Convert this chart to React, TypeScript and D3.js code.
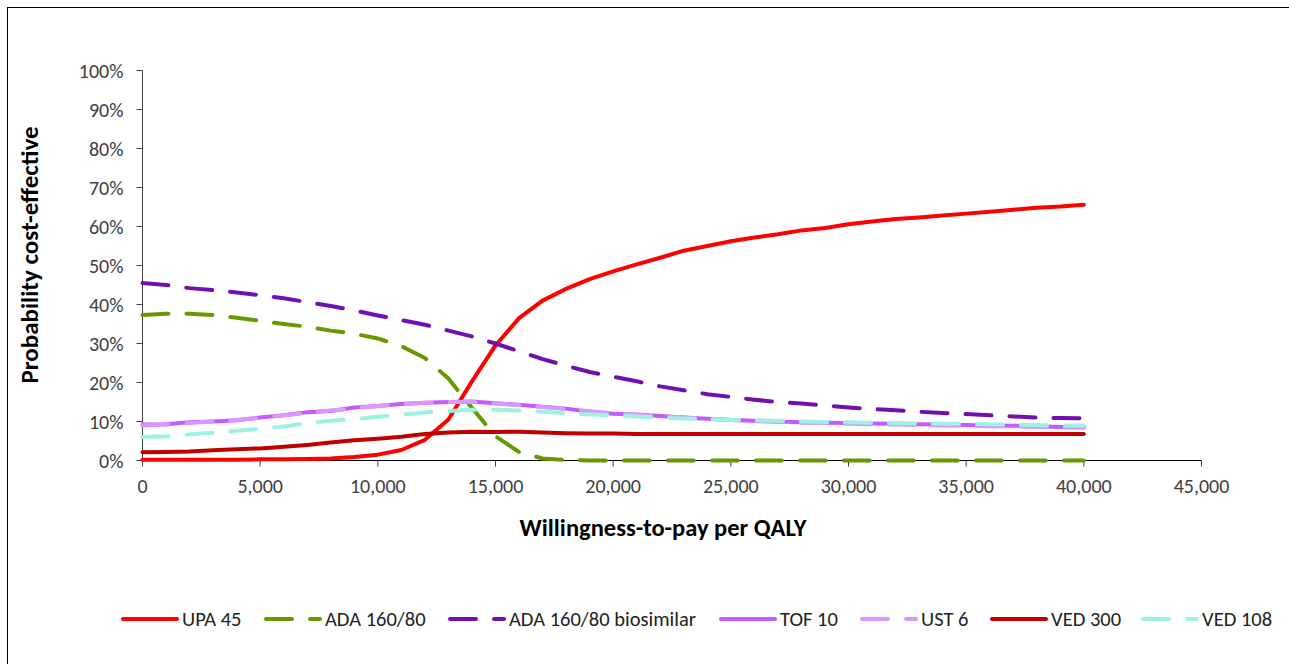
import React from "react";
import * as d3 from "d3";

const wtp = [0, 1000, 2000, 3000, 4000, 5000, 6000, 7000, 8000, 9000, 10000, 11000, 12000, 13000, 14000, 15000, 16000, 17000, 18000, 19000, 20000, 21000, 22000, 23000, 24000, 25000, 26000, 27000, 28000, 29000, 30000, 31000, 32000, 33000, 34000, 35000, 36000, 37000, 38000, 39000, 40000];

const upa45 = [0.2, 0.2, 0.2, 0.2, 0.2, 0.3, 0.3, 0.4, 0.5, 0.9, 1.5, 2.7, 5.3, 10.5, 20.3, 29.5, 36.5, 41, 44, 46.5, 48.5, 50.3, 52, 53.8, 55, 56.2, 57.2, 58, 59, 59.6, 60.6, 61.3, 61.9, 62.3, 62.8, 63.3, 63.8, 64.3, 64.8, 65.1, 65.6];
const ada16080 = [37.3, 37.6, 37.6, 37.3, 36.6, 35.8, 35, 34.3, 33.3, 32.5, 31.3, 29.3, 26.3, 21, 13.5, 6.2, 2.2, 0.5, 0.1, 0, 0, 0, 0, 0, 0, 0, 0, 0, 0, 0, 0, 0, 0, 0, 0, 0, 0, 0, 0, 0, 0];
const adaBiosimilar = [45.5, 45, 44.2, 43.7, 43.1, 42.4, 41.6, 40.6, 39.6, 38.5, 37.2, 36, 34.8, 33.3, 31.8, 30, 28, 26, 24.3, 22.7, 21.5, 20.3, 19, 18, 17, 16.3, 15.6, 15, 14.6, 14.1, 13.6, 13.2, 12.9, 12.5, 12.2, 11.9, 11.6, 11.3, 11.0, 10.9, 10.8];
const tof10 = [9.2, 9.3, 9.8, 10, 10.3, 11, 11.6, 12.4, 12.7, 13.6, 14, 14.5, 14.8, 15, 15.1, 14.7, 14.3, 13.8, 13.3, 12.5, 12, 11.8, 11.4, 11, 10.7, 10.4, 10.2, 10, 9.8, 9.7, 9.6, 9.5, 9.4, 9.3, 9.2, 9.1, 9, 8.9, 8.8, 8.6, 8.5];
const ust6 = [9.0, 9.2, 9.6, 10, 10.4, 10.9, 11.6, 12.2, 12.8, 13.4, 14, 14.4, 14.8, 15, 15, 14.6, 14.2, 13.7, 13.2, 12.6, 12.1, 11.7, 11.3, 11, 10.7, 10.4, 10.1, 9.9, 9.7, 9.6, 9.4, 9.3, 9.2, 9.1, 9.0, 8.9, 8.8, 8.7, 8.6, 8.5, 8.4];
const ved300 = [2.1, 2.2, 2.3, 2.6, 2.9, 3.1, 3.5, 4, 4.6, 5.2, 5.6, 6.1, 6.8, 7.2, 7.4, 7.3, 7.4, 7.2, 7.0, 6.9, 6.9, 6.8, 6.8, 6.8, 6.8, 6.8, 6.8, 6.8, 6.8, 6.8, 6.8, 6.8, 6.8, 6.8, 6.8, 6.8, 6.8, 6.8, 6.8, 6.8, 6.8];
const ved108 = [6.0, 6.2, 6.7, 7.1, 7.6, 8.1, 8.7, 9.6, 10.2, 10.6, 11.2, 11.8, 12.3, 12.7, 13, 13, 12.8, 12.5, 12.1, 11.8, 11.6, 11.3, 11.0, 10.8, 10.6, 10.4, 10.3, 10.2, 10.0, 9.9, 9.8, 9.7, 9.6, 9.5, 9.4, 9.4, 9.3, 9.2, 9.1, 9.0, 9.0];

const seriesNames = ["UPA 45", "ADA 160/80", "ADA 160/80 biosimilar", "TOF 10", "UST 6", "VED 300", "VED 108"];
const seriesValues = [upa45, ada16080, adaBiosimilar, tof10, ust6, ved300, ved108];
const seriesColors = ["#FF0000", "#669900", "#7010B0", "#C45AFF", "#DA98FF", "#C00000", "#9DF2E2"];
const seriesDashed = [false, true, true, false, true, false, true];

const xTicks = [0, 5000, 10000, 15000, 20000, 25000, 30000, 35000, 40000, 45000];
const yTicks = [0, 10, 20, 30, 40, 50, 60, 70, 80, 90, 100];

const legendX = [123, 266, 450, 721, 862, 992, 1143];

const FONT = "Carlito, Calibri, Lato, 'Open Sans', sans-serif";

export default function App() {
  const W = 1289;
  const H = 664;
  const x = d3.scaleLinear().domain([0, 45000]).range([142.5, 1201.5]);
  const y = d3.scaleLinear().domain([0, 100]).range([460.5, 70.5]);
  const line = d3
    .line<number>()
    .x((_, i) => x(wtp[i]))
    .y((d) => y(d));
  const fmt = d3.format(",");
  const dash = "26 18";

  return (
    <svg
      width={W}
      height={H}
      style={{ position: "absolute", left: 0, top: 0, background: "#fff" }}
      fontFamily={FONT}
    >
      <rect x={7.5} y={7.5} width={1300} height={680} fill="#fff" stroke="#000" strokeWidth={1} />
      {/* y axis */}
      <line x1={x(0)} x2={x(0)} y1={y(0)} y2={y(100)} stroke="#404040" strokeWidth={1} />
      {yTicks.map((t) => (
        <g key={"y" + t}>
          <line x1={x(0) - 6} x2={x(0)} y1={y(t)} y2={y(t)} stroke="#404040" />
          <text x={x(0) - 19} y={y(t)} dy="0.36em" textAnchor="end" fontSize={20} fill="#404040">
            {t + "%"}
          </text>
        </g>
      ))}
      {/* x axis */}
      <line x1={x(0)} x2={x(45000)} y1={y(0)} y2={y(0)} stroke="#000" strokeWidth={1} />
      {xTicks.map((t) => (
        <g key={"x" + t}>
          <line x1={x(t)} x2={x(t)} y1={y(0)} y2={y(0) + 6} stroke="#404040" />
          <text x={x(t)} y={486} dy="0.36em" textAnchor="middle" fontSize={20} fill="#404040">
            {fmt(t)}
          </text>
        </g>
      ))}
      <text x={663} y={527} dy="0.36em" textAnchor="middle" fontSize={24.5} fontWeight="bold" fill="#000">
        Willingness-to-pay per QALY
      </text>
      <text
        transform="translate(29,255) rotate(-90)"
        dy="0.36em"
        textAnchor="middle"
        fontSize={25}
        fontWeight="bold"
        fill="#000"
      >
        Probability cost-effective
      </text>
      {/* series */}
      {seriesValues.map((vals, i) => (
        <path
          key={seriesNames[i]}
          d={line(vals) || ""}
          fill="none"
          stroke={seriesColors[i]}
          strokeWidth={4}
          strokeLinecap="round"
          strokeLinejoin="round"
          strokeDasharray={seriesDashed[i] ? dash : undefined}
        />
      ))}
      {/* legend */}
      {seriesNames.map((name, i) => (
        <g key={"lg" + name}>
          <line
            x1={legendX[i]}
            x2={legendX[i] + 54}
            y1={619}
            y2={619}
            stroke={seriesColors[i]}
            strokeWidth={4}
            strokeLinecap="round"
            strokeDasharray={seriesDashed[i] ? dash : undefined}
          />
          <text x={legendX[i] + 59} y={619} dy="0.36em" fontSize={20.5} fill="#222">
            {name}
          </text>
        </g>
      ))}
    </svg>
  );
}
